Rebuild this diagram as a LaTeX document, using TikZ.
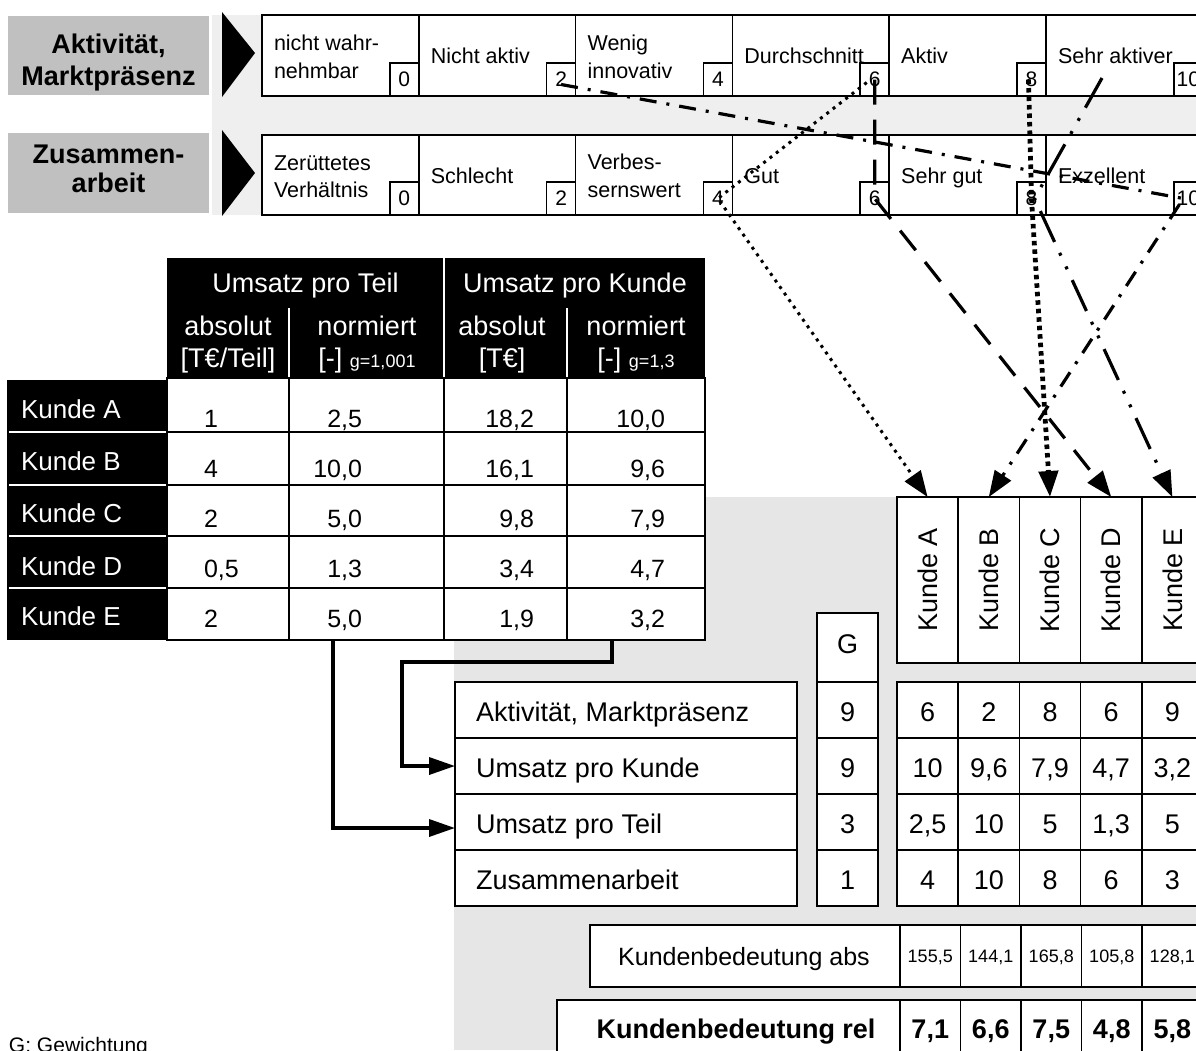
\documentclass[tikz,border=0pt]{standalone}
\usepackage{fontspec}
\setmainfont{Liberation Sans}
\usetikzlibrary{arrows.meta,calc}
\definecolor{labgray}{HTML}{C0C0C0}
\definecolor{bandgray}{HTML}{EFEFEF}
\definecolor{areagray}{HTML}{E6E6E6}
\newcommand\setfs[2]{\fontsize{#1}{#2}\selectfont}
% one row of the evaluation matrix: #1 row index, #2 the five values
\newcommand\matrixrow[2]{%
  \foreach \v [count=\c from 0] in {#2} {%
    \node[tcell,minimum width=61.2pt,minimum height=56pt] (m#1\c) at (897+61.2*\c,682+56*#1) {};
    \node[ttext] (mt#1\c) at (927.6+61.2*\c,721+56*#1) {\v};
  }}
\begin{document}
\begin{tikzpicture}[x=1pt,y=-1pt,
  every node/.style={inner sep=0pt,outer sep=0pt},
  labbox/.style={fill=labgray,minimum width=201pt,anchor=north west},
  labtxt/.style={anchor=base,font=\bfseries\setfs{27}{31}},
  scalecell/.style={draw,line width=1.6pt,fill=white,minimum width=156.8pt,minimum height=#1,anchor=north west},
  numbox/.style={draw,line width=1.6pt,fill=white,minimum width=29pt,minimum height=33pt,anchor=south east,font=\setfs{21}{25}},
  stxt/.style={anchor=base west,font=\setfs{21.5}{26}},
  hdrtxt/.style={anchor=base,text=white,font=\setfs{27}{32}},
  rowlabel/.style={anchor=base west,text=white,font=\setfs{26}{30}},
  tcell/.style={draw,line width=1.5pt,fill=white,anchor=north west},
  ttext/.style={anchor=base,font=\setfs{27}{31}},
  vtxt/.style={font=\setfs{25}{30}},
  linkA/.style={line width=3pt,dash pattern=on 3pt off 5pt},
  linkB/.style={line width=3.2pt,dash pattern=on 17pt off 10pt on 3pt off 10pt},
  linkC/.style={line width=4.8pt,dash pattern=on 4.5pt off 4pt},
  linkD/.style={line width=3.2pt,dash pattern=on 25pt off 15pt},
  linkE/.style={line width=3.2pt,dash pattern=on 34pt off 12pt on 3pt off 12pt on 3pt off 12pt},
  tip/.style={-{Triangle[length=26pt,width=19pt]},line join=round},
  flow/.style={line width=3.5pt,-{Triangle[length=26pt,width=17pt]}}
]
\useasboundingbox (0,0) rectangle (1196,1050);
\clip (0,0) rectangle (1196,1050);

% ---------- backgrounds ----------
\fill[bandgray] (212,15) rectangle (1196,215);
\fill[areagray] (454,497) rectangle (1196,1050);

% ---------- criteria scales ----------
\node[labbox,minimum height=79pt] (lab1) at (8,16) {};
\node[labtxt] (lab1a) at (108.5,53) {Aktivität,};
\node[labtxt] (lab1b) at (108.5,85) {Marktpräsenz};
\node[labbox,minimum height=80pt] (lab2) at (8,133) {};
\node[labtxt] (lab2a) at (108.5,163) {Zusammen-};
\node[labtxt] (lab2b) at (108.5,192) {arbeit};
\fill (222,12) -- (255,53) -- (222,97) -- cycle;
\fill (222,130) -- (255,173) -- (222,216) -- cycle;

\foreach \i in {0,...,5} {
  \node[scalecell=81pt] (ak\i) at (262+156.8*\i,15) {};
  \node[scalecell=80pt] (zu\i) at (262+156.8*\i,135) {};
}
% texts of the upper scale
\node[stxt] (akt0a) at (274,50) {nicht wahr-};
\node[stxt] (akt0b) at (274,78) {nehmbar};
\node[stxt] (akt1) at (430.8,63) {Nicht aktiv};
\node[stxt] (akt2a) at (587.6,50) {Wenig};
\node[stxt] (akt2b) at (587.6,78) {innovativ};
\node[stxt] (akt3) at (744.4,63) {Durchschnitt};
\node[stxt] (akt4) at (901.2,63) {Aktiv};
\node[stxt] (akt5) at (1058,63) {Sehr aktiver};
% texts of the lower scale
\node[stxt] (zut0a) at (274,170) {Zerüttetes};
\node[stxt] (zut0b) at (274,197) {Verhältnis};
\node[stxt] (zut1) at (430.8,183) {Schlecht};
\node[stxt] (zut2a) at (587.6,169) {Verbes-};
\node[stxt] (zut2b) at (587.6,197) {sernswert};
\node[stxt] (zut3) at (744.4,183) {Gut};
\node[stxt] (zut4) at (901.2,183) {Sehr gut};
\node[stxt] (zut5) at (1058,183) {Exzellent};
% score boxes
\foreach \i/\v in {0/0,1/2,2/4,3/6,4/8,5/10} {
  \node[numbox] (akn\i) at (262+156.8*\i+156.8,96) {\v};
  \node[numbox] (zkn\i) at (262+156.8*\i+156.8,215) {\v};
}

% ---------- revenue table ----------
\node[fill=black,minimum width=538pt,minimum height=120pt,anchor=north west] (hdr) at (167,258) {};
\draw[white,line width=2.5pt] (444,258) -- (444,378);
\draw[white,line width=2pt] (289,308) -- (289,378) (567,308) -- (567,378);
\node[hdrtxt] (h1) at (305.5,292) {Umsatz pro Teil};
\node[hdrtxt] (h2) at (575,292) {Umsatz pro Kunde};
\node[hdrtxt] (h11a) at (228,335) {absolut};
\node[hdrtxt] (h11b) at (228,367) {[T€/Teil]};
\node[hdrtxt] (h12a) at (367,335) {normiert};
\node[hdrtxt] (h12b) at (367,367) {[-] {\setfs{18}{20}g=1,001}};
\node[hdrtxt] (h21a) at (502,335) {absolut};
\node[hdrtxt] (h21b) at (502,367) {[T€]};
\node[hdrtxt] (h22a) at (636,335) {normiert};
\node[hdrtxt] (h22b) at (636,367) {[-] {\setfs{18}{20}g=1,3}};

\node[fill=black,minimum width=160pt,minimum height=260pt,anchor=north west] (rowlab) at (7,380) {};
\draw[white,line width=2pt] (9,432) -- (167,432) (9,485) -- (167,485) (9,536) -- (167,536) (9,588) -- (167,588);

\foreach \ry/\rh/\lab in {378/54/A,432/53/B,485/51/C,536/52/D,588/52/E} {
  \foreach \cx/\cw [count=\c] in {167/122,289/155,444/123,567/138} {
    \node[tcell,minimum width=\cw pt,minimum height=\rh pt] (c\lab\c) at (\cx,\ry) {};
  }
}
\foreach \lab/\lb/\by/\a/\b/\cc/\d in {A/418/427/1/{2,5}/{18,2}/{10,0},
    B/470/477/4/{10,0}/{16,1}/{9,6}, C/522/527/2/{5,0}/{9,8}/{7,9},
    D/575/577/{0,5}/{1,3}/{3,4}/{4,7}, E/625/627/2/{5,0}/{1,9}/{3,2}} {
  \node[rowlabel] (rl\lab) at (21,\lb) {Kunde \lab};
  \node[vtxt,anchor=base west] (v\lab1) at (204,\by) {\a};
  \node[vtxt,anchor=base east] (v\lab2) at (362,\by) {\b};
  \node[vtxt,anchor=base east] (v\lab3) at (534,\by) {\cc};
  \node[vtxt,anchor=base east] (v\lab4) at (665,\by) {\d};
}

% ---------- weighting and evaluation ----------
\foreach \k [count=\c from 0] in {A,B,C,D,E} {
  \node[tcell,minimum width=61.2pt,minimum height=166pt] (k\k) at (897+61.2*\c,497) {};
  \node[rotate=90,font=\setfs{27}{31}] (kt\k) at (927.6+61.2*\c,580) {Kunde \k};
}
\node[tcell,minimum width=61pt,minimum height=69pt] (gH) at (817,613) {};
\node[ttext] (gHt) at (847.5,653) {G};
\foreach \t/\g [count=\r from 0] in {{Aktivität, Marktpräsenz}/9,Umsatz pro Kunde/9,Umsatz pro Teil/3,Zusammenarbeit/1} {
  \node[tcell,minimum width=342pt,minimum height=56pt] (cr\r) at (455,682+56*\r) {};
  \node[ttext,anchor=base west] (crt\r) at (476,721+56*\r) {\t};
  \node[tcell,minimum width=61pt,minimum height=56pt] (g\r) at (817,682+56*\r) {};
  \node[ttext] (gt\r) at (847.5,721+56*\r) {\g};
}
\matrixrow{0}{6,2,8,6,9}
\matrixrow{1}{10,{9,6},{7,9},{4,7},{3,2}}
\matrixrow{2}{{2,5},10,5,{1,3},5}
\matrixrow{3}{4,10,8,6,3}

% ---------- results ----------
\node[tcell,minimum width=310pt,minimum height=62pt] (absL) at (590,925) {};
\node[ttext,font=\setfs{25}{30}] (absT) at (744,965) {Kundenbedeutung abs};
\foreach \v [count=\c from 0] in {{155,5},{144,1},{165,8},{105,8},{128,1}} {
  \node[tcell,minimum width=60.5pt,minimum height=62pt] (ab\c) at (900+60.5*\c,925) {};
  \node[anchor=base,font=\setfs{18}{21}] (abt\c) at (930.25+60.5*\c,962) {\v};
}
\node[tcell,minimum width=343pt,minimum height=62pt] (relL) at (557,1000) {};
\node[ttext,font=\bfseries\setfs{27}{31}] (relT) at (736,1038) {Kundenbedeutung rel};
\foreach \v [count=\c from 0] in {{7,1},{6,6},{7,5},{4,8},{5,8}} {
  \node[tcell,minimum width=60.5pt,minimum height=62pt] (rl\c) at (900+60.5*\c,1000) {};
  \node[anchor=base,font=\bfseries\setfs{27}{31}] (rlt\c) at (930.25+60.5*\c,1038) {\v};
}
\node[anchor=base west,font=\setfs{21}{25}] (legend) at (9,1052) {G: Gewichtung};

% ---------- connectors: revenue table to criteria ----------
\draw[flow] ([xshift=44pt]cE2.south west) |- ([yshift=-6pt]cr2.west);
\draw[flow] ([xshift=45pt]cE4.south west) -- ++(0,22) -| ([xshift=-53pt]cr1.west) -- (cr1.west);

% ---------- connectors: scale ratings to customers ----------
\coordinate (a9) at (1102,78);
\draw[linkA,tip] ([xshift=-8pt,yshift=-3pt]akn3.center) -- (zkn2.center) -- (kA.north);
\draw[linkB,tip] ([yshift=-5pt]akn1.center) -- ([xshift=-5pt]zkn5.center) -- (kB.north);
\draw[linkC,tip] ([xshift=-3pt]akn4.center) -- (zkn4.center) -- (kC.north);
\draw[linkD,tip] (akn3.center) -- (zkn3.center) -- (kD.north);
\draw[linkE,tip] (a9) -- ([xshift=3pt]zkn4.center) -- (kE.north);
\end{tikzpicture}
\end{document}
